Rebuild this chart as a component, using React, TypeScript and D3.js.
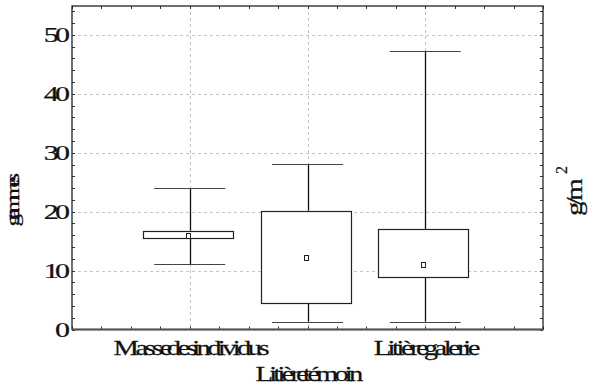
import React from "react";
import * as d3 from "d3";

const categories = ["Masse des individus", "Litière témoin", "Litière galerie"];
const means = [15.9, 12.1, 11.0];
const q1 = [15.65, 4.55, 8.86];
const q3 = [16.77, 20.17, 17.0];
const minV = [11.05, 1.32, 1.32];
const maxV = [24.0, 28.1, 47.3];
const yTicks = [0, 10, 20, 30, 40, 50];
const yLabel = "grammes";
const labelSpacing = [-2.8, -2.95, -2.7];

const W = 593;
const H = 388;
const L = 72, R = 543, T = 6, B = 329.5;

export default function App() {
  const x = d3.scaleLinear().domain([0, 4]).range([L, R]);
  const y = d3.scaleLinear().domain([0, 54.9]).range([B, T]);
  const minorX = d3.range(0, 4.001, 0.25);
  const minorY = d3.range(0, 55, 2);
  const boxW = 90;
  const capW = 71;
  const ff = "'Liberation Serif', 'Times New Roman', serif";
  const sn = (v: number) => Math.round(v) + 0.5;

  return (
    <svg width={W} height={H} style={{ position: "absolute", left: 0, top: 0, background: "#fff" }}>
      {yTicks.filter((t) => t > 0).map((t) => (
        <line key={"gy" + t} x1={L} x2={R} y1={sn(y(t))} y2={sn(y(t))} stroke="#c4c4c4" strokeDasharray="3,3" />
      ))}
      {categories.map((c, i) => (
        <line key={"gx" + i} x1={sn(x(i + 1))} x2={sn(x(i + 1))} y1={T} y2={B} stroke="#c4c4c4" strokeDasharray="3,3" />
      ))}
      {minorX.map((v, i) => (
        <g key={"tx" + i}>
          <line x1={sn(x(v))} x2={sn(x(v))} y1={B} y2={B - 3} stroke="#333" />
          <line x1={sn(x(v))} x2={sn(x(v))} y1={T} y2={T + 3} stroke="#333" />
        </g>
      ))}
      {minorY.map((v, i) => (
        <g key={"ty" + i}>
          <line x1={L} x2={L + 3} y1={sn(y(v))} y2={sn(y(v))} stroke="#333" />
          <line x1={R} x2={R - 3} y1={sn(y(v))} y2={sn(y(v))} stroke="#333" />
        </g>
      ))}
      {categories.map((c, i) => {
        const cx = x(i + 1);
        return (
          <g key={"b" + i}>
            <line x1={sn(cx)} x2={sn(cx)} y1={y(maxV[i])} y2={y(q3[i])} stroke="#111" strokeWidth={1.3} />
            <line x1={sn(cx)} x2={sn(cx)} y1={y(q1[i])} y2={y(minV[i])} stroke="#111" strokeWidth={1.3} />
            <line x1={cx - capW / 2} x2={cx + capW / 2} y1={sn(y(maxV[i]))} y2={sn(y(maxV[i]))} stroke="#444" strokeWidth={1.2} />
            <line x1={cx - capW / 2} x2={cx + capW / 2} y1={sn(y(minV[i]))} y2={sn(y(minV[i]))} stroke="#444" strokeWidth={1.2} />
            <rect x={sn(cx - 2 - boxW / 2)} y={sn(y(q3[i]))} width={boxW} height={Math.round(y(q1[i]) - y(q3[i]))} fill="#fff" stroke="#222" strokeWidth={1.2} />
            <rect x={sn(cx - 4)} y={sn(y(means[i]) - 3)} width={4} height={5} fill="#fff" stroke="#222" strokeWidth={1} />
          </g>
        );
      })}
      <rect x={L} y={T} width={R - L} height={B - T} fill="none" stroke="#222" strokeWidth={1.3} />
      <line x1={L} x2={R} y1={B} y2={B} stroke="#555" strokeWidth={2} />
      <g fontFamily={ff} fill="#111" stroke="#111" strokeWidth={0.25}>
        {yTicks.map((t) => (
          <text key={"yl" + t} transform={`translate(${t === 0 ? 70 : 66},${y(t) + 7}) scale(1.5,1)`} textAnchor="end" fontSize={20}
            letterSpacing={t === 0 ? 0 : -2.6}>
            {t}
          </text>
        ))}
        {categories.map((c, i) => (
          <text key={"cl" + i} transform={`translate(${x(i + 1)},${i % 2 === 0 ? 355 : 381}) scale(1.3,1)`} textAnchor="middle" fontSize={22}
            letterSpacing={labelSpacing[i]} wordSpacing={-4}>
            {c}
          </text>
        ))}
        <text transform="translate(19,203) rotate(-90) scale(1.4,1)" textAnchor="middle" fontSize={18} letterSpacing={-4.6}>
          {yLabel}
        </text>
        <text transform="translate(582,199) rotate(-90) scale(1.2,1)" textAnchor="middle" fontSize={24} letterSpacing={-3}>
          g/m
        </text>
        <text transform="translate(567,174) rotate(-90)" fontSize={16}>
          2
        </text>
      </g>
    </svg>
  );
}
